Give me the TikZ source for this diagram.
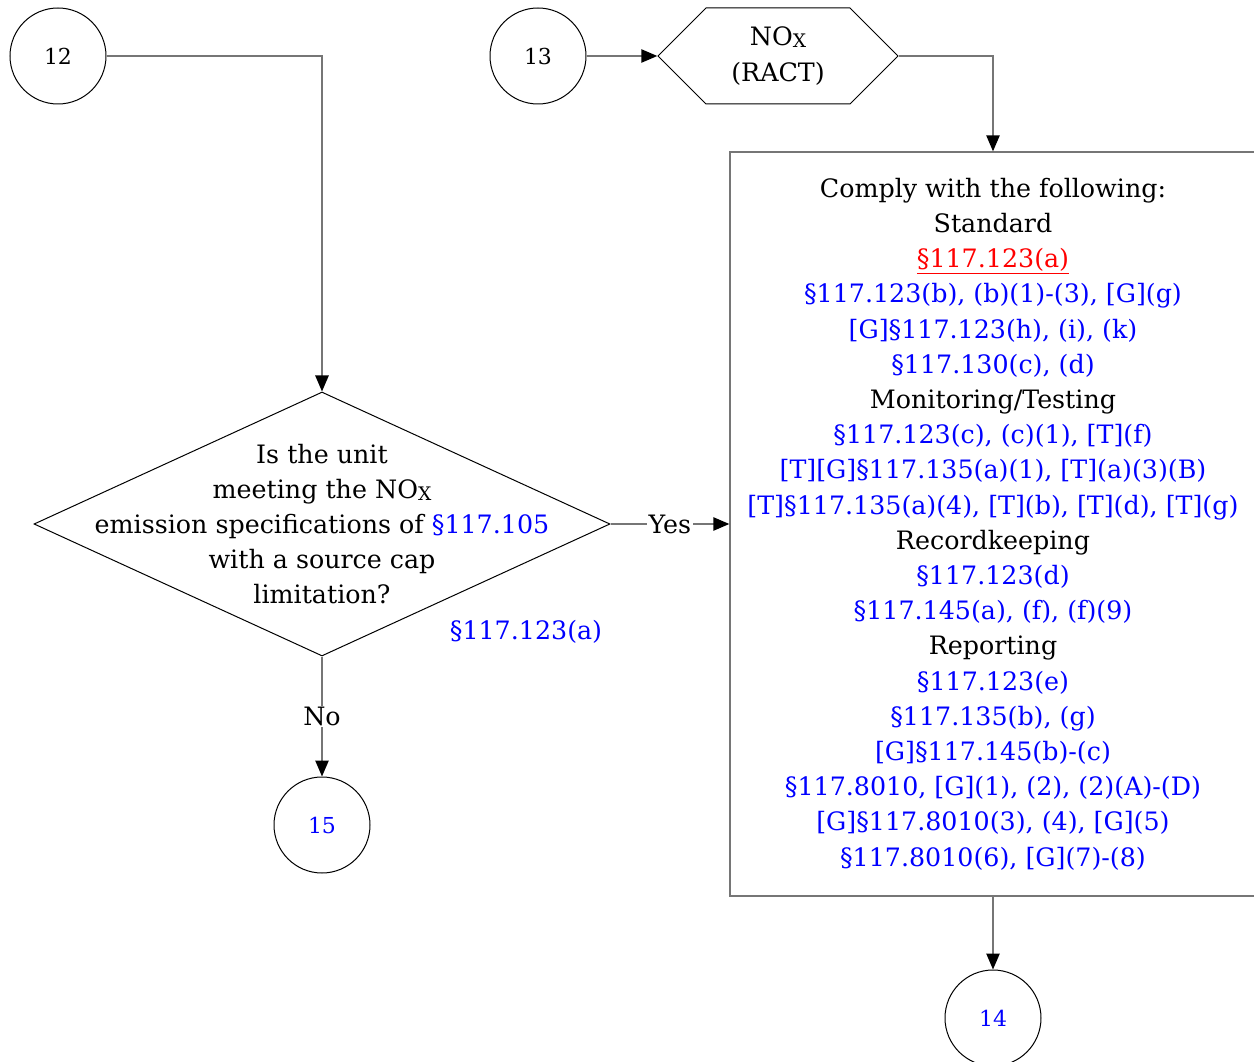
\documentclass[tikz,border=0pt]{standalone}
\usepackage{fontspec}
\setmainfont{DejaVu Serif}
\usetikzlibrary{shapes.geometric,shapes.symbols,arrows.meta}
\definecolor{refblue}{RGB}{0,0,255}
\definecolor{refred}{RGB}{255,0,0}
\definecolor{linegrey}{RGB}{118,118,118}
\newcommand{\nox}{NO\raisebox{-1.5pt}{\fontsize{14}{14}\selectfont X}}
\newcommand{\rb}[1]{\textcolor{refblue}{#1}}
\tikzset{
  conn/.style={circle, draw, line width=0.75pt, minimum size=72pt, inner sep=0pt, font=\fontsize{16.5}{18}\selectfont},
  flow/.style={draw=linegrey, line width=1.1pt, -{Triangle[length=12pt,width=10pt,color=black]}},
  lbl/.style={fill=white, inner sep=1pt, font=\fontsize{19}{26.4}\selectfont},
  txt/.style={align=center, inner sep=0pt, font=\fontsize{19}{26.4}\selectfont},
}
\begin{document}
\begin{tikzpicture}[x=0.75pt,y=0.75pt,yscale=-1,xscale=1]
\useasboundingbox (0,0) rectangle (1254,1062);

% Connector circles
\node [conn] (c12) at (58,56) {12};
\node [conn] (c13) at (538,56) {13};
\node [conn, text=refblue] (c15) at (322,825) {15};
\node [conn, text=refblue] (c14) at (993,1018) {14};

% Hexagon
\node [signal, signal to=west and east, signal pointer angle=90, draw, line width=0.75pt, minimum width=180pt, minimum height=72pt, txt] (nox) at (778,56) {\nox\\(RACT)};

% Decision
\node [diamond, draw, line width=0.75pt, minimum width=432pt, minimum height=198pt, inner sep=0pt] (dec) at (322,524) {};
\node [txt] (dectxt) at (dec.center) {Is the unit\\meeting the \nox\\emission specifications of \rb{§117.105}\\with a source cap\\limitation?};
% Text Node
\node [txt, text=refblue] (ref) at (526,632) {§117.123(a)};

% Requirements box
\node [draw=linegrey, line width=1pt, minimum width=394.5pt, minimum height=558pt, txt] (req) at (993,524) {%
Comply with the following:\\
Standard\\
\textcolor{refred}{\underline{§117.123(a)}}\\
\rb{§117.123(b), (b)(1)-(3), [G](g)}\\
\rb{[G]§117.123(h), (i), (k)}\\
\rb{§117.130(c), (d)}\\
Monitoring/Testing\\
\rb{§117.123(c), (c)(1), [T](f)}\\
\rb{[T][G]§117.135(a)(1), [T](a)(3)(B)}\\
\rb{[T]§117.135(a)(4), [T](b), [T](d), [T](g)}\\
Recordkeeping\\
\rb{§117.123(d)}\\
\rb{§117.145(a), (f), (f)(9)}\\
Reporting\\
\rb{§117.123(e)}\\
\rb{§117.135(b), (g)}\\
\rb{[G]§117.145(b)-(c)}\\
\rb{§117.8010, [G](1), (2), (2)(A)-(D)}\\
\rb{[G]§117.8010(3), (4), [G](5)}\\
\rb{§117.8010(6), [G](7)-(8)}};

% Straight Lines
\draw [flow] (c12.east) -| (dec.north);
\draw [flow] (c13.east) -- (nox.west);
\draw [flow] (nox.east) -| (req.north);
\draw [flow] (dec.east) -- node [lbl] {Yes} (req.west);
\draw [flow] (dec.south) -- node [lbl] {No} (c15.north);
\draw [flow] (req.south) -- (c14.north);

\end{tikzpicture}
\end{document}
